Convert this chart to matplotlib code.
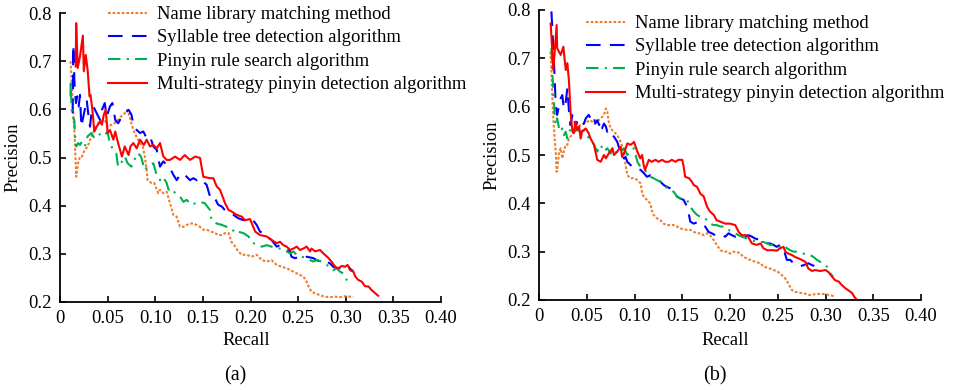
import matplotlib
matplotlib.use("Agg")
import matplotlib.pyplot as plt
from matplotlib.ticker import FixedLocator, FixedFormatter

plt.rcParams['font.family'] = ['Liberation Serif', 'DejaVu Serif']
plt.rcParams['mathtext.fontset'] = 'stix'

labels = ["Name library matching method", "Syllable tree detection algorithm",
          "Pinyin rule search algorithm", "Multi-strategy pinyin detection algorithm"]
colors = ["#ED7D31", "#0000FF", "#00B050", "#FF0000"]
xticks = [0, 0.05, 0.10, 0.15, 0.20, 0.25, 0.30, 0.35, 0.40]
xtick_labels = ["0", "0.05", "0.10", "0.15", "0.20", "0.25", "0.30", "0.35", "0.40"]
yticks = [0.2, 0.3, 0.4, 0.5, 0.6, 0.7, 0.8]
ytick_labels = ["0.2", "0.3", "0.4", "0.5", "0.6", "0.7", "0.8"]
panel_tags = ["(a)", "(b)"]

# ---------------- panel (a) ----------------
a_name_r = [0.011, 0.012, 0.0137, 0.0154, 0.017, 0.019, 0.021, 0.023, 0.026, 0.029, 0.033, 0.036, 0.040, 0.043,
            0.047, 0.050, 0.054, 0.057, 0.061, 0.064, 0.068, 0.071, 0.073, 0.077, 0.080, 0.084, 0.087, 0.089,
            0.091, 0.092, 0.096, 0.099, 0.103, 0.105, 0.1085, 0.112, 0.1155, 0.119, 0.1225, 0.126, 0.1295,
            0.133, 0.1365, 0.140, 0.1435, 0.147, 0.1505, 0.154, 0.159, 0.163, 0.166, 0.170, 0.173, 0.177,
            0.180, 0.184, 0.187, 0.191, 0.196, 0.201, 0.2065, 0.212, 0.217, 0.222, 0.2275, 0.233, 0.238,
            0.245, 0.252, 0.2555, 0.259, 0.261, 0.264, 0.268, 0.273, 0.278, 0.2835, 0.289, 0.294, 0.299,
            0.3045, 0.308]
a_name_p = [0.700, 0.668, 0.599, 0.544, 0.460, 0.488, 0.502, 0.502, 0.516, 0.523, 0.544, 0.557, 0.571, 0.575,
            0.578, 0.564, 0.568, 0.571, 0.578, 0.585, 0.592, 0.599, 0.585, 0.557, 0.544, 0.530, 0.523, 0.502,
            0.474, 0.453, 0.447, 0.447, 0.426, 0.433, 0.426, 0.429, 0.405, 0.381, 0.377, 0.356, 0.356,
            0.360, 0.363, 0.363, 0.360, 0.356, 0.350, 0.350, 0.346, 0.343, 0.339, 0.339, 0.343, 0.343,
            0.325, 0.315, 0.305, 0.298, 0.298, 0.294, 0.298, 0.287, 0.284, 0.287, 0.277, 0.273, 0.270,
            0.263, 0.256, 0.253, 0.242, 0.232, 0.221, 0.218, 0.214, 0.211, 0.210, 0.211, 0.210, 0.212,
            0.211, 0.211]

a_syl_r = [0.0133, 0.014, 0.0154, 0.0168, 0.018, 0.0196, 0.021, 0.0224, 0.0245, 0.026, 0.028, 0.030, 0.0315,
           0.033, 0.035, 0.0385, 0.042, 0.044, 0.047, 0.049, 0.0525, 0.055, 0.058, 0.061, 0.065, 0.068, 0.072,
           0.075, 0.077, 0.0805, 0.084, 0.0875, 0.091, 0.0945, 0.098, 0.1015, 0.105, 0.1085, 0.112, 0.1155,
           0.119, 0.1225, 0.126, 0.1295, 0.133, 0.1365, 0.140, 0.1435, 0.147, 0.1505, 0.154, 0.1575, 0.161,
           0.166, 0.170, 0.173, 0.177, 0.182, 0.187, 0.1925, 0.198, 0.201, 0.2065, 0.210, 0.2135, 0.217,
           0.222, 0.2275, 0.231, 0.236, 0.2415, 0.243, 0.2468, 0.252, 0.2555, 0.259, 0.266, 0.2695, 0.273,
           0.2765, 0.2835, 0.287, 0.2905, 0.294, 0.2975, 0.303, 0.306, 0.308]
a_syl_p = [0.592, 0.734, 0.641, 0.613, 0.627, 0.606, 0.630, 0.564, 0.585, 0.599, 0.620, 0.585, 0.564,
           0.592, 0.606, 0.592, 0.578, 0.599, 0.613, 0.585, 0.606, 0.613, 0.578, 0.571, 0.585, 0.592, 0.599,
           0.589, 0.568, 0.557, 0.551, 0.554, 0.540, 0.544, 0.523, 0.516, 0.481, 0.492, 0.485, 0.478,
           0.464, 0.453, 0.464, 0.467, 0.460, 0.453, 0.457, 0.453, 0.457, 0.450, 0.443, 0.419, 0.422,
           0.402, 0.398, 0.391, 0.384, 0.381, 0.374, 0.370, 0.370, 0.374, 0.360, 0.346, 0.343, 0.336,
           0.329, 0.315, 0.318, 0.311, 0.305, 0.294, 0.291, 0.294, 0.291, 0.294, 0.291, 0.287, 0.284,
           0.287, 0.280, 0.273, 0.270, 0.270, 0.266, 0.273, 0.266, 0.265]

a_pin_r = [0.011, 0.0112, 0.012, 0.0126, 0.015, 0.016, 0.017, 0.019, 0.021, 0.023, 0.026, 0.029, 0.033, 0.036,
           0.040, 0.043, 0.047, 0.050, 0.052, 0.056, 0.059, 0.061, 0.064, 0.068, 0.071, 0.075, 0.078, 0.082,
           0.085, 0.089, 0.092, 0.098, 0.101, 0.105, 0.108, 0.112, 0.114, 0.117, 0.121, 0.126, 0.1295, 0.133,
           0.138, 0.142, 0.147, 0.152, 0.1575, 0.159, 0.1645, 0.170, 0.175, 0.180, 0.184, 0.187, 0.1925,
           0.198, 0.201, 0.2065, 0.212, 0.217, 0.222, 0.2275, 0.233, 0.238, 0.2415, 0.245, 0.2485, 0.254,
           0.259, 0.2625, 0.266, 0.2695, 0.275, 0.280, 0.2835, 0.287, 0.2905, 0.294, 0.2975, 0.301, 0.3045]
a_pin_p = [0.627, 0.661, 0.609, 0.585, 0.578, 0.540, 0.523, 0.530, 0.526, 0.533, 0.523, 0.544, 0.551, 0.540,
           0.544, 0.551, 0.547, 0.554, 0.530, 0.516, 0.509, 0.481, 0.488, 0.502, 0.488, 0.481, 0.495, 0.509,
           0.502, 0.474, 0.481, 0.488, 0.467, 0.453, 0.460, 0.447, 0.433, 0.436, 0.426, 0.419, 0.408, 0.412,
           0.402, 0.405, 0.408, 0.405, 0.391, 0.370, 0.363, 0.360, 0.356, 0.353, 0.343, 0.346, 0.343,
           0.336, 0.325, 0.318, 0.315, 0.318, 0.315, 0.311, 0.311, 0.305, 0.301, 0.305, 0.298, 0.294,
           0.291, 0.287, 0.284, 0.287, 0.284, 0.277, 0.273, 0.266, 0.270, 0.263, 0.259, 0.246, 0.239]

a_multi_r = [0.0165, 0.017, 0.0186, 0.021, 0.024, 0.025, 0.027, 0.029, 0.031, 0.032, 0.034, 0.036, 0.0385,
             0.042, 0.044, 0.046, 0.048, 0.050, 0.0525, 0.056, 0.058, 0.061, 0.065, 0.068, 0.072, 0.074, 0.077,
             0.0805, 0.084, 0.088, 0.091, 0.0945, 0.098, 0.1015, 0.105, 0.1085, 0.112, 0.1155, 0.1208, 0.126,
             0.131, 0.1365, 0.142, 0.147, 0.1505, 0.1575, 0.161, 0.1645, 0.168, 0.1733, 0.177, 0.180, 0.1855,
             0.191, 0.194, 0.1995, 0.205, 0.210, 0.217, 0.222, 0.2275, 0.231, 0.2345, 0.238, 0.2415, 0.245,
             0.2485, 0.252, 0.2555, 0.259, 0.2625, 0.264, 0.268, 0.273, 0.2765, 0.282, 0.285, 0.289, 0.292,
             0.296, 0.299, 0.302, 0.3045, 0.308, 0.310, 0.313, 0.317, 0.320, 0.324, 0.327, 0.331, 0.334]
a_multi_p = [0.689, 0.779, 0.686, 0.710, 0.753, 0.679, 0.713, 0.682, 0.627, 0.630, 0.599, 0.554, 0.564,
             0.575, 0.568, 0.589, 0.599, 0.551, 0.557, 0.537, 0.554, 0.530, 0.502, 0.523, 0.505, 0.523, 0.530,
             0.519, 0.537, 0.526, 0.537, 0.523, 0.526, 0.519, 0.530, 0.502, 0.495, 0.495, 0.502, 0.495,
             0.505, 0.495, 0.502, 0.499, 0.460, 0.457, 0.457, 0.440, 0.433, 0.405, 0.391, 0.388, 0.381,
             0.377, 0.370, 0.372, 0.346, 0.339, 0.336, 0.329, 0.322, 0.325, 0.318, 0.315, 0.308, 0.311,
             0.315, 0.308, 0.311, 0.315, 0.305, 0.311, 0.305, 0.308, 0.301, 0.291, 0.284, 0.273, 0.270,
             0.275, 0.273, 0.277, 0.266, 0.263, 0.253, 0.246, 0.242, 0.233, 0.232, 0.225, 0.218, 0.213]

# ---------------- panel (b) ----------------
b_name_r = [0.012, 0.013, 0.014, 0.015, 0.0164, 0.0175, 0.0185, 0.020, 0.021, 0.0227, 0.0244, 0.026, 0.028,
            0.0297, 0.0314, 0.033, 0.0366, 0.040, 0.0436, 0.047, 0.0506, 0.054, 0.0576, 0.061, 0.0646, 0.068,
            0.070, 0.0715, 0.073, 0.075, 0.0785, 0.082, 0.0855, 0.089, 0.0907, 0.0925, 0.096, 0.0995, 0.103,
            0.1065, 0.108, 0.1096, 0.113, 0.1165, 0.118, 0.120, 0.1235, 0.127, 0.1305, 0.134, 0.141, 0.1445,
            0.148, 0.155, 0.1585, 0.162, 0.1655, 0.169, 0.1725, 0.176, 0.179, 0.183, 0.186, 0.190, 0.193,
            0.197, 0.200, 0.204, 0.207, 0.211, 0.214, 0.218, 0.221, 0.2265, 0.232, 0.235, 0.239, 0.242,
            0.2455, 0.249, 0.2525, 0.256, 0.2595, 0.261, 0.263, 0.265, 0.268, 0.2735, 0.279, 0.284, 0.289,
            0.2945, 0.300, 0.305, 0.310]
b_name_p = [0.714, 0.672, 0.617, 0.576, 0.534, 0.507, 0.465, 0.486, 0.507, 0.514, 0.493, 0.507, 0.521,
            0.521, 0.534, 0.538, 0.548, 0.555, 0.562, 0.565, 0.569, 0.572, 0.565, 0.569, 0.576, 0.583,
            0.596, 0.590, 0.569, 0.555, 0.548, 0.541, 0.527, 0.507, 0.479, 0.458, 0.452, 0.452, 0.448,
            0.441, 0.421, 0.414, 0.407, 0.400, 0.386, 0.376, 0.369, 0.365, 0.358, 0.355, 0.355, 0.352,
            0.348, 0.345, 0.345, 0.341, 0.338, 0.338, 0.334, 0.338, 0.334, 0.324, 0.314, 0.303, 0.300,
            0.300, 0.296, 0.300, 0.300, 0.296, 0.289, 0.286, 0.283, 0.279, 0.276, 0.269, 0.267, 0.265,
            0.262, 0.260, 0.255, 0.248, 0.241, 0.234, 0.227, 0.220, 0.217, 0.215, 0.213, 0.210, 0.212,
            0.213, 0.212, 0.210, 0.207]

b_syl_r = [0.013, 0.015, 0.0164, 0.0175, 0.019, 0.021, 0.0227, 0.0244, 0.026, 0.028, 0.0297, 0.0314, 0.033,
           0.035, 0.0366, 0.038, 0.040, 0.042, 0.0436, 0.047, 0.049, 0.052, 0.054, 0.056, 0.0576, 0.059, 0.061,
           0.063, 0.0646, 0.066, 0.068, 0.070, 0.0715, 0.073, 0.077, 0.0785, 0.082, 0.084, 0.0855, 0.087,
           0.089, 0.0907, 0.0925, 0.096, 0.0995, 0.103, 0.1065, 0.110, 0.113, 0.1165, 0.120, 0.1235, 0.127,
           0.1305, 0.134, 0.1375, 0.141, 0.1445, 0.148, 0.1515, 0.155, 0.157, 0.1585, 0.162, 0.167, 0.1705,
           0.174, 0.1775, 0.181, 0.1845, 0.188, 0.1915, 0.195, 0.1985, 0.202, 0.2055, 0.209, 0.2125, 0.216,
           0.2195, 0.223, 0.2265, 0.232, 0.235, 0.239, 0.242, 0.2455, 0.249, 0.2525, 0.256, 0.258, 0.2595,
           0.263, 0.2665, 0.270, 0.2735, 0.277, 0.282, 0.286, 0.289]
b_syl_p = [0.797, 0.721, 0.659, 0.603, 0.583, 0.603, 0.617, 0.624, 0.596, 0.610, 0.638, 0.590, 0.562,
           0.583, 0.586, 0.555, 0.569, 0.572, 0.562, 0.565, 0.576, 0.583, 0.576, 0.569, 0.576, 0.565, 0.572,
           0.562, 0.569, 0.555, 0.565, 0.559, 0.548, 0.552, 0.541, 0.538, 0.527, 0.514, 0.507, 0.500,
           0.493, 0.496, 0.486, 0.479, 0.472, 0.472, 0.469, 0.462, 0.455, 0.458, 0.452, 0.448, 0.445,
           0.438, 0.434, 0.431, 0.424, 0.414, 0.410, 0.407, 0.393, 0.376, 0.362, 0.358, 0.362, 0.355,
           0.352, 0.341, 0.338, 0.334, 0.331, 0.334, 0.331, 0.338, 0.334, 0.331, 0.334, 0.331, 0.332,
           0.334, 0.331, 0.327, 0.324, 0.320, 0.317, 0.317, 0.314, 0.310, 0.314, 0.307, 0.293, 0.283,
           0.283, 0.276, 0.272, 0.270, 0.272, 0.276, 0.272, 0.270]

b_pin_r = [0.013, 0.014, 0.015, 0.0164, 0.0175, 0.019, 0.021, 0.0227, 0.0244, 0.026, 0.028, 0.0297, 0.0314,
           0.033, 0.0366, 0.040, 0.0436, 0.047, 0.0506, 0.054, 0.0576, 0.061, 0.0646, 0.068, 0.0715, 0.075,
           0.0785, 0.082, 0.0855, 0.089, 0.0925, 0.096, 0.0995, 0.103, 0.106, 0.1096, 0.113, 0.1165, 0.120,
           0.1235, 0.127, 0.1305, 0.134, 0.1375, 0.141, 0.1445, 0.148, 0.1515, 0.155, 0.1585, 0.162, 0.1655,
           0.169, 0.1725, 0.176, 0.179, 0.183, 0.186, 0.190, 0.195, 0.1985, 0.202, 0.2055, 0.209, 0.2125,
           0.218, 0.223, 0.228, 0.232, 0.235, 0.239, 0.242, 0.2455, 0.249, 0.2525, 0.256, 0.2595, 0.263,
           0.2665, 0.270, 0.2735, 0.277, 0.2805, 0.284, 0.2875, 0.291, 0.2945, 0.298, 0.3015, 0.305, 0.308]
b_pin_p = [0.721, 0.672, 0.631, 0.583, 0.562, 0.576, 0.555, 0.548, 0.555, 0.541, 0.548, 0.534, 0.545,
           0.555, 0.548, 0.552, 0.548, 0.552, 0.538, 0.534, 0.521, 0.507, 0.521, 0.507, 0.514, 0.503,
           0.514, 0.503, 0.507, 0.514, 0.500, 0.507, 0.514, 0.486, 0.476, 0.469, 0.465, 0.455, 0.452,
           0.448, 0.445, 0.441, 0.431, 0.427, 0.424, 0.414, 0.410, 0.407, 0.407, 0.393, 0.383, 0.376,
           0.372, 0.372, 0.365, 0.358, 0.355, 0.355, 0.352, 0.352, 0.345, 0.341, 0.338, 0.334, 0.331,
           0.327, 0.324, 0.320, 0.320, 0.320, 0.317, 0.314, 0.314, 0.310, 0.310, 0.314, 0.307, 0.303,
           0.300, 0.300, 0.298, 0.296, 0.293, 0.293, 0.289, 0.283, 0.279, 0.276, 0.269, 0.255, 0.248]

b_multi_r = [0.0122, 0.015, 0.0185, 0.019, 0.0227, 0.0255, 0.028, 0.0297, 0.0314, 0.033, 0.035, 0.0366, 0.038,
             0.040, 0.042, 0.0436, 0.045, 0.049, 0.052, 0.054, 0.0576, 0.061, 0.0646, 0.068, 0.070, 0.073,
             0.077, 0.0785, 0.082, 0.0855, 0.087, 0.0897, 0.0925, 0.096, 0.0995, 0.103, 0.106, 0.108, 0.1096,
             0.111, 0.115, 0.118, 0.122, 0.125, 0.129, 0.132, 0.136, 0.139, 0.143, 0.146, 0.150, 0.1515,
             0.153, 0.157, 0.160, 0.162, 0.1655, 0.169, 0.1725, 0.176, 0.179, 0.183, 0.186, 0.190, 0.195,
             0.200, 0.2055, 0.209, 0.2125, 0.218, 0.223, 0.228, 0.232, 0.235, 0.239, 0.2455, 0.249, 0.2525,
             0.256, 0.258, 0.261, 0.265, 0.268, 0.272, 0.275, 0.279, 0.282, 0.286, 0.289, 0.2945, 0.300,
             0.303, 0.307, 0.310, 0.314, 0.317, 0.321, 0.324, 0.328, 0.330, 0.333]
b_multi_p = [0.772, 0.676, 0.769, 0.721, 0.707, 0.724, 0.676, 0.690, 0.652, 0.590, 0.548, 0.545, 0.569,
             0.552, 0.559, 0.534, 0.548, 0.555, 0.545, 0.534, 0.521, 0.490, 0.486, 0.500, 0.493, 0.503,
             0.514, 0.500, 0.507, 0.517, 0.496, 0.507, 0.524, 0.521, 0.527, 0.507, 0.493, 0.500, 0.479,
             0.469, 0.490, 0.486, 0.490, 0.486, 0.490, 0.486, 0.486, 0.490, 0.486, 0.490, 0.490, 0.476,
             0.455, 0.452, 0.445, 0.438, 0.434, 0.420, 0.414, 0.393, 0.383, 0.376, 0.365, 0.362, 0.358,
             0.358, 0.355, 0.341, 0.334, 0.334, 0.317, 0.314, 0.317, 0.307, 0.303, 0.303, 0.302, 0.307,
             0.310, 0.300, 0.296, 0.293, 0.289, 0.286, 0.283, 0.279, 0.265, 0.260, 0.262, 0.260, 0.262,
             0.258, 0.248, 0.241, 0.238, 0.231, 0.224, 0.220, 0.214, 0.207, 0.200]

panels = [
    [(a_name_r, a_name_p), (a_syl_r, a_syl_p), (a_pin_r, a_pin_p), (a_multi_r, a_multi_p)],
    [(b_name_r, b_name_p), (b_syl_r, b_syl_p), (b_pin_r, b_pin_p), (b_multi_r, b_multi_p)],
]

LW = 1.5
styles = [(0, (1.3, 0.9)), (0, (7, 4.5)), (0, (6, 3, 1, 3)), "-"]

W, H = 956, 390
fig = plt.figure(figsize=(W / 100, H / 100), dpi=100)

axes_px = [(60, 13, 441, 302), (539, 10, 921, 300)]
legend_px = [(108, 6), (586, 15)]
tag_px = [(235, 376), (715, 376)]
xlabel_y = [-0.105, -0.11]
ylabel_x = [-0.1, -0.1]

FS = 13.4
for i, (l, t, r, b) in enumerate(axes_px):
    ax = fig.add_axes([l / W, 1 - b / H, (r - l) / W, (b - t) / H])
    for (xr, yp), c, ls, lab in zip(panels[i], colors, styles, labels):
        ax.plot(xr, yp, color=c, linestyle=ls, lw=LW, label=lab)
    ax.set_xlim(0, 0.40)
    ax.set_ylim(0.2, 0.8)
    ax.xaxis.set_major_locator(FixedLocator(xticks))
    ax.xaxis.set_major_formatter(FixedFormatter(xtick_labels))
    ax.yaxis.set_major_locator(FixedLocator(yticks))
    ax.yaxis.set_major_formatter(FixedFormatter(ytick_labels))
    for s in ["top", "right"]:
        ax.spines[s].set_visible(False)
    for s in ["left", "bottom"]:
        ax.spines[s].set_linewidth(1.3)
    ax.tick_params(direction="in", length=4, width=1.2, labelsize=FS, pad=6)
    ax.set_xlabel("Recall", fontsize=FS)
    ax.set_ylabel("Precision", fontsize=FS)
    ax.xaxis.set_label_coords(0.488, xlabel_y[i])
    ax.yaxis.set_label_coords(ylabel_x[i], 0.5)
    lx, ly = legend_px[i]
    ax.legend(loc="upper left", bbox_to_anchor=(lx / W, 1 - ly / H), bbox_transform=fig.transFigure,
              frameon=False, fontsize=FS, handlelength=2.1, handletextpad=0.55,
              labelspacing=0.34, borderpad=0, borderaxespad=0)
    tx, ty = tag_px[i]
    fig.text(tx / W, 1 - ty / H, panel_tags[i], ha="center", va="center", fontsize=14.5)

fig.savefig("out.png", dpi=100)
